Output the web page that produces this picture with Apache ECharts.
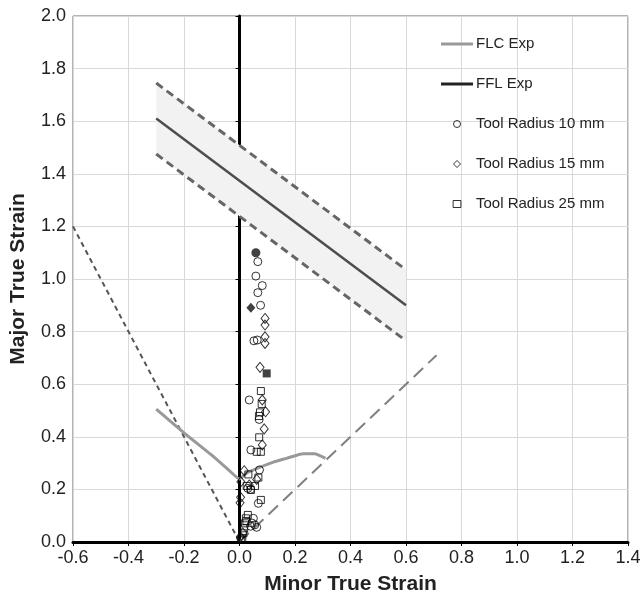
<!DOCTYPE html>
<html>
<head>
<meta charset="utf-8">
<script src="https://cdn.jsdelivr.net/npm/echarts@6/dist/echarts.min.js"></script>
<style>
html,body{margin:0;padding:0;background:#fff;}
#chart{width:643px;height:604px;}
</style>
</head>
<body>
<div id="chart"></div>
<script>
// ---- data ----
const xTicks = [-0.6, 1.4];
const yTicks = [0.0, 2.0];
const flcX = [-0.30, -0.20, -0.10, -0.03, 0.00, 0.025, 0.07, 0.12, 0.17, 0.23, 0.27, 0.31];
const flcY = [0.505, 0.415, 0.330, 0.265, 0.240, 0.262, 0.283, 0.303, 0.318, 0.336, 0.336, 0.318];
const fflX = [-0.3, 0.6];
const fflY = [1.61, 0.90];
const fflUpperY = [1.745, 1.035];
const fflLowerY = [1.475, 0.765];
const thinX = [-0.6, 0.0];
const thinY = [1.2, 0.0];
const biaxX = [0.0, 0.71];
const biaxY = [0.0, 0.71];
const r10 = [[0.066,1.066],[0.059,1.011],[0.082,0.975],[0.066,0.948],[0.076,0.900],[0.052,0.765],[0.064,0.768],[0.035,0.540],[0.071,0.466],[0.041,0.350],[0.072,0.274],[0.030,0.204],[0.040,0.200],[0.068,0.147],[0.050,0.090],[0.045,0.072],[0.055,0.065],[0.062,0.056],[0.040,0.060],[0.005,0.012]];
const r10Fracture = [[0.059,1.100]];
const r15 = [[0.092,0.850],[0.092,0.825],[0.092,0.780],[0.092,0.755],[0.074,0.664],[0.082,0.540],[0.094,0.495],[0.089,0.430],[0.082,0.369],[0.017,0.271],[0.062,0.238],[0.035,0.217],[0.005,0.229],[0.004,0.170],[0.002,0.149],[0.003,0.020],[0.012,0.035]];
const r15Fracture = [[0.041,0.891]];
const r25 = [[0.077,0.574],[0.080,0.525],[0.074,0.493],[0.070,0.479],[0.071,0.398],[0.062,0.343],[0.077,0.343],[0.032,0.257],[0.068,0.245],[0.056,0.213],[0.026,0.213],[0.041,0.198],[0.077,0.160],[0.030,0.103],[0.023,0.090],[0.020,0.071],[0.017,0.052],[0.014,0.033],[0.010,0.015],[0.025,0.080]];
const r25Fracture = [[0.098,0.641]];
const legendNames = ['FLC Exp', 'FFL Exp', 'Tool Radius 10 mm', 'Tool Radius 15 mm', 'Tool Radius 25 mm'];

const zip = (xs, ys) => xs.map((x, i) => [x, ys[i]]);
const FONT = '"Liberation Sans", Arial, Helvetica, sans-serif';

const chart = echarts.init(document.getElementById('chart'), null, {renderer: 'canvas'});

const bandSeries = {
  type: 'custom',
  silent: true,
  z: 1,
  data: [0],
  renderItem: function (params, api) {
    const pts = [];
    for (let i = 0; i < fflX.length; i++) pts.push(api.coord([fflX[i], fflUpperY[i]]));
    for (let i = fflX.length - 1; i >= 0; i--) pts.push(api.coord([fflX[i], fflLowerY[i]]));
    return {type: 'polygon', shape: {points: pts}, style: {fill: '#f2f2f2'}};
  }
};

const lineBase = {type: 'line', showSymbol: false, symbol: 'none', silent: true};
const scatterStyle = {color: 'rgba(255,255,255,0)', borderColor: '#000', borderWidth: 1};
const LINE_ICON = 'path://M0,0 L32,0 L32,3 L0,3 Z';
const DIAMOND_ICON = 'path://M5,0 L10,5 L5,10 L0,5 Z';
const SQUARE_ICON = 'path://M0,0 L10,0 L10,9 L0,9 Z';

chart.setOption({
  animation: false,
  backgroundColor: '#fff',
  textStyle: {fontFamily: FONT},
  grid: {left: 73, right: 15, top: 16, bottom: 62, outerBoundsMode: 'none', containLabel: false, show: true, borderColor: '#666', borderWidth: 1, backgroundColor: 'transparent'},
  legend: {
    orient: 'vertical',
    left: 441,
    top: 36,
    padding: 0,
    itemWidth: 32,
    itemHeight: 7,
    itemGap: 24,
    symbolKeepAspect: true,
    textStyle: {fontFamily: FONT, fontSize: 15, color: '#222', lineHeight: 16, padding: [0, 0, 0, -2]},
    data: [
      {name: legendNames[0], icon: LINE_ICON, itemStyle: {color: '#999', borderWidth: 0}},
      {name: legendNames[1], icon: LINE_ICON, itemStyle: {color: '#222', borderWidth: 0}},
      {name: legendNames[2], icon: 'circle', itemStyle: {color: 'rgba(255,255,255,0)', borderColor: '#000', borderWidth: 1}},
      {name: legendNames[3], icon: DIAMOND_ICON, itemStyle: {color: 'rgba(255,255,255,0)', borderColor: '#000', borderWidth: 1}},
      {name: legendNames[4], icon: SQUARE_ICON, itemStyle: {color: 'rgba(255,255,255,0)', borderColor: '#000', borderWidth: 1}}
    ]
  },
  xAxis: {
    type: 'value',
    min: xTicks[0], max: xTicks[1], interval: 0.2,
    name: 'Minor True Strain',
    nameLocation: 'middle',
    nameGap: 32,
    nameTextStyle: {fontFamily: FONT, fontSize: 21, fontWeight: 'bold', color: '#222'},
    axisLine: {onZero: false, lineStyle: {color: '#000', width: 3}},
    axisTick: {show: true, length: 4, lineStyle: {color: '#000', width: 1}},
    axisLabel: {fontFamily: FONT, fontSize: 18, color: '#222', margin: 7, formatter: v => v.toFixed(1)},
    splitLine: {show: true, lineStyle: {color: '#d9d9d9', width: 1}}
  },
  yAxis: [{
    type: 'value',
    min: yTicks[0], max: yTicks[1], interval: 0.2,
    name: 'Major True Strain',
    nameLocation: 'middle',
    nameGap: 44,
    nameTextStyle: {fontFamily: FONT, fontSize: 21, fontWeight: 'bold', color: '#222'},
    axisLine: {show: false, onZero: false},
    axisTick: {show: false},
    axisLabel: {fontFamily: FONT, fontSize: 18, color: '#222', margin: 7, formatter: v => v.toFixed(1)},
    splitLine: {show: true, lineStyle: {color: '#d9d9d9', width: 1}}
  }, {
    type: 'value',
    position: 'left',
    min: yTicks[0], max: yTicks[1], interval: 0.2,
    axisLine: {show: true, onZero: true, lineStyle: {color: '#000', width: 3}},
    axisTick: {show: true, length: 4, lineStyle: {color: '#000', width: 1}},
    axisLabel: {show: false},
    splitLine: {show: false}
  }],
  series: [
    bandSeries,
    Object.assign({}, lineBase, {name: 'band-upper', data: zip(fflX, fflUpperY), lineStyle: {color: '#666', width: 3, type: [8, 5]}}),
    Object.assign({}, lineBase, {name: 'band-lower', data: zip(fflX, fflLowerY), lineStyle: {color: '#666', width: 3, type: [8, 5]}}),
    Object.assign({}, lineBase, {name: 'thinning', data: zip(thinX, thinY), lineStyle: {color: '#555', width: 2, type: [5, 4]}}),
    Object.assign({}, lineBase, {name: 'biaxial', data: zip(biaxX, biaxY), lineStyle: {color: '#808080', width: 2, type: [13, 7]}}),
    Object.assign({}, lineBase, {name: legendNames[1], data: zip(fflX, fflY), color: '#333', lineStyle: {color: '#4d4d4d', width: 2.5}}),
    Object.assign({}, lineBase, {name: legendNames[0], data: zip(flcX, flcY), color: '#999', smooth: 0.2, lineStyle: {color: '#999', width: 3}}),
    {type: 'scatter', name: legendNames[2], symbol: 'circle', symbolSize: 8, symbolKeepAspect: true, data: r10, itemStyle: scatterStyle, z: 3},
    {type: 'scatter', name: legendNames[3], symbol: 'diamond', symbolSize: [8, 10], symbolKeepAspect: true, data: r15, itemStyle: scatterStyle, z: 3},
    {type: 'scatter', name: legendNames[4], symbol: 'rect', symbolSize: 7, symbolKeepAspect: true, data: r25, itemStyle: scatterStyle, z: 3},
    {type: 'scatter', name: 'fracture10', symbol: 'circle', symbolSize: 9, data: r10Fracture, itemStyle: {color: '#111'}, z: 4},
    {type: 'scatter', name: 'fracture15', symbol: 'diamond', symbolSize: [9, 10], data: r15Fracture, itemStyle: {color: '#111'}, z: 4},
    {type: 'scatter', name: 'fracture25', symbol: 'rect', symbolSize: 8, data: r25Fracture, itemStyle: {color: '#111'}, z: 4}
  ]
});
</script>
</body>
</html>
